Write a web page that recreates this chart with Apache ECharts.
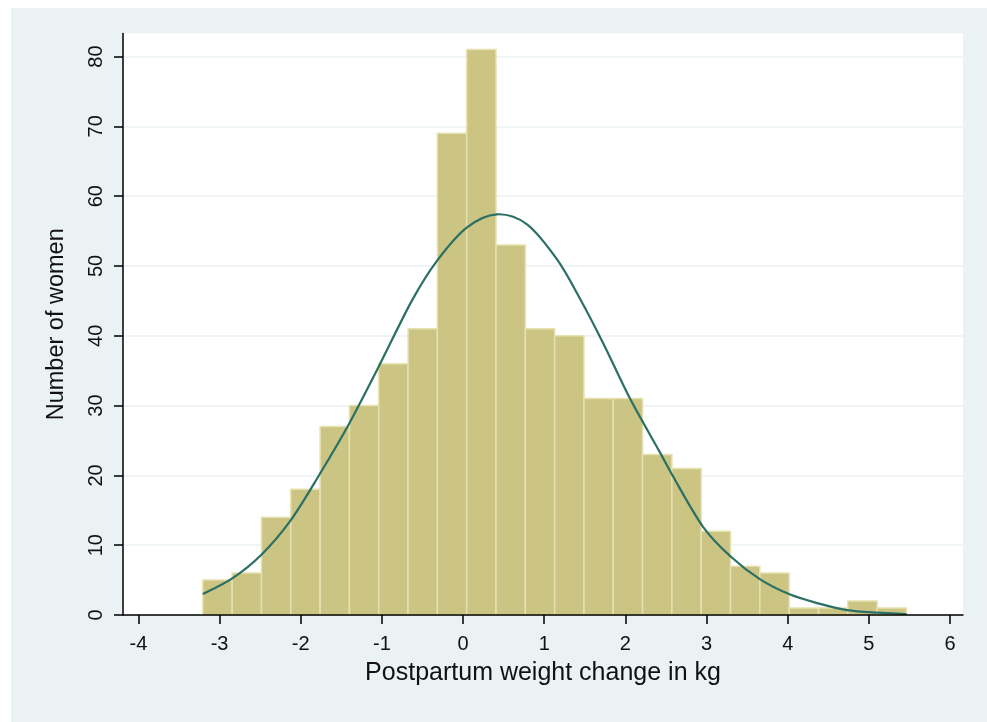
<!DOCTYPE html>
<html>
<head>
<meta charset="utf-8">
<script src="https://cdn.jsdelivr.net/npm/echarts@6/dist/echarts.min.js"></script>
<style>
  html, body { margin: 0; padding: 0; background: #ffffff; }
  #chart { position: absolute; left: 11px; top: 8px; width: 976px; height: 714px; background: #EAF2F3; }
</style>
</head>
<body>
<div id="chart"></div>
<script>
// Histogram: bin layout
const binStart = -3.206;
const binWidth = 0.3612;
const counts = [5, 6, 14, 18, 27, 30, 36, 41, 69, 81, 53, 41, 40, 31, 31, 23, 21, 12, 7, 6, 1, 1, 2, 1];

// Overlaid normal curve [x, y]
const curveX = [-3.206, -2.849, -2.488, -2.122, -1.765, -1.404, -1.043, -0.632, -0.324, 0.045, 0.415, 0.784, 1.154, 1.441, 1.728, 2.057, 2.426, 2.59, 2.959, 3.304, 3.661, 4.023, 4.376, 4.733, 5.107, 5.464];
const curveY = [3.0, 5.2, 8.6, 13.6, 20.2, 27.4, 35.5, 45.0, 50.7, 55.5, 57.4, 56.0, 51.0, 45.3, 38.9, 31.0, 23.3, 19.8, 12.6, 8.3, 5.1, 2.96, 1.67, 0.71, 0.33, 0.14];

// Axis ticks
const xTicks = [-4, -3, -2, -1, 0, 1, 2, 3, 4, 5, 6];
const yTicks = [0, 10, 20, 30, 40, 50, 60, 70, 80];

const xTitle = 'Postpartum weight change in kg';
const yTitle = 'Number of women';

const barData = counts.map((c, i) => [binStart + i * binWidth, binStart + (i + 1) * binWidth, c]);
const curveData = curveX.map((x, i) => [x, curveY[i]]);

const FONT = '"Liberation Sans", Arial, Helvetica, sans-serif';

const chart = echarts.init(document.getElementById('chart'), null, { renderer: 'canvas' });
chart.setOption({
  animation: false,
  backgroundColor: '#EAF2F3',
  textStyle: { fontFamily: FONT },
  grid: {
    left: 112, right: 24, top: 25.5, bottom: 107,
    show: true, backgroundColor: '#ffffff', borderWidth: 0
  },
  xAxis: {
    type: 'value',
    min: -4.19, max: 6.16,
    z: 10,
    name: xTitle,
    nameLocation: 'middle',
    nameGap: 46,
    nameTextStyle: { fontSize: 25, color: '#111', fontFamily: FONT },
    axisLine: { show: true, onZero: false, lineStyle: { color: '#000', width: 1.5 } },
    axisTick: { show: true, length: 9, lineStyle: { color: '#000', width: 1.5 }, customValues: xTicks },
    axisLabel: { show: true, fontSize: 20, color: '#111', margin: 19, customValues: xTicks, fontFamily: FONT },
    splitLine: { show: false }
  },
  yAxis: {
    type: 'value',
    min: 0, max: 83.3,
    name: yTitle,
    nameLocation: 'middle',
    nameRotate: 90,
    nameGap: 54,
    nameTextStyle: { fontSize: 23.5, color: '#111', fontFamily: FONT },
    axisLine: { show: true, onZero: false, lineStyle: { color: '#000', width: 1.5 } },
    axisTick: { show: true, length: 9, lineStyle: { color: '#000', width: 1.5 }, customValues: yTicks },
    axisLabel: { show: true, fontSize: 20, color: '#111', rotate: 90, margin: 17, customValues: yTicks, fontFamily: FONT },
    splitLine: { show: true, lineStyle: { color: '#EAF2F3', width: 1.5 } }
  },
  series: [
    {
      type: 'custom',
      data: barData,
      encode: { x: [0, 1], y: 2 },
      renderItem: function (params, api) {
        const p0 = api.coord([api.value(0), api.value(2)]);
        const p1 = api.coord([api.value(1), 0]);
        return {
          type: 'rect',
          shape: { x: p0[0], y: p0[1], width: p1[0] - p0[0], height: p1[1] - p0[1] },
          style: { fill: '#CBC482', stroke: '#E6E1B0', lineWidth: 1.5 }
        };
      },
      z: 2
    },
    {
      // smooth curve drawn through the read points (Catmull-Rom rendered as Bezier path)
      type: 'custom',
      data: [curveData[0]],
      encode: { x: 0, y: 1 },
      renderItem: function (params, api) {
        const pts = curveData.map(p => api.coord(p));
        const n = pts.length;
        let d = 'M' + pts[0][0] + ' ' + pts[0][1];
        for (let i = 0; i < n - 1; i++) {
          const a = pts[Math.max(i - 1, 0)];
          const b = pts[i];
          const c = pts[i + 1];
          const e = pts[Math.min(i + 2, n - 1)];
          const c1x = b[0] + (c[0] - a[0]) / 6, c1y = b[1] + (c[1] - a[1]) / 6;
          const c2x = c[0] - (e[0] - b[0]) / 6, c2y = c[1] - (e[1] - b[1]) / 6;
          d += ' C' + c1x + ' ' + c1y + ' ' + c2x + ' ' + c2y + ' ' + c[0] + ' ' + c[1];
        }
        return {
          type: 'path',
          shape: { pathData: d },
          style: { fill: 'none', stroke: '#2A7064', lineWidth: 2.2 }
        };
      },
      z: 3
    }
  ]
});
</script>
</body>
</html>
